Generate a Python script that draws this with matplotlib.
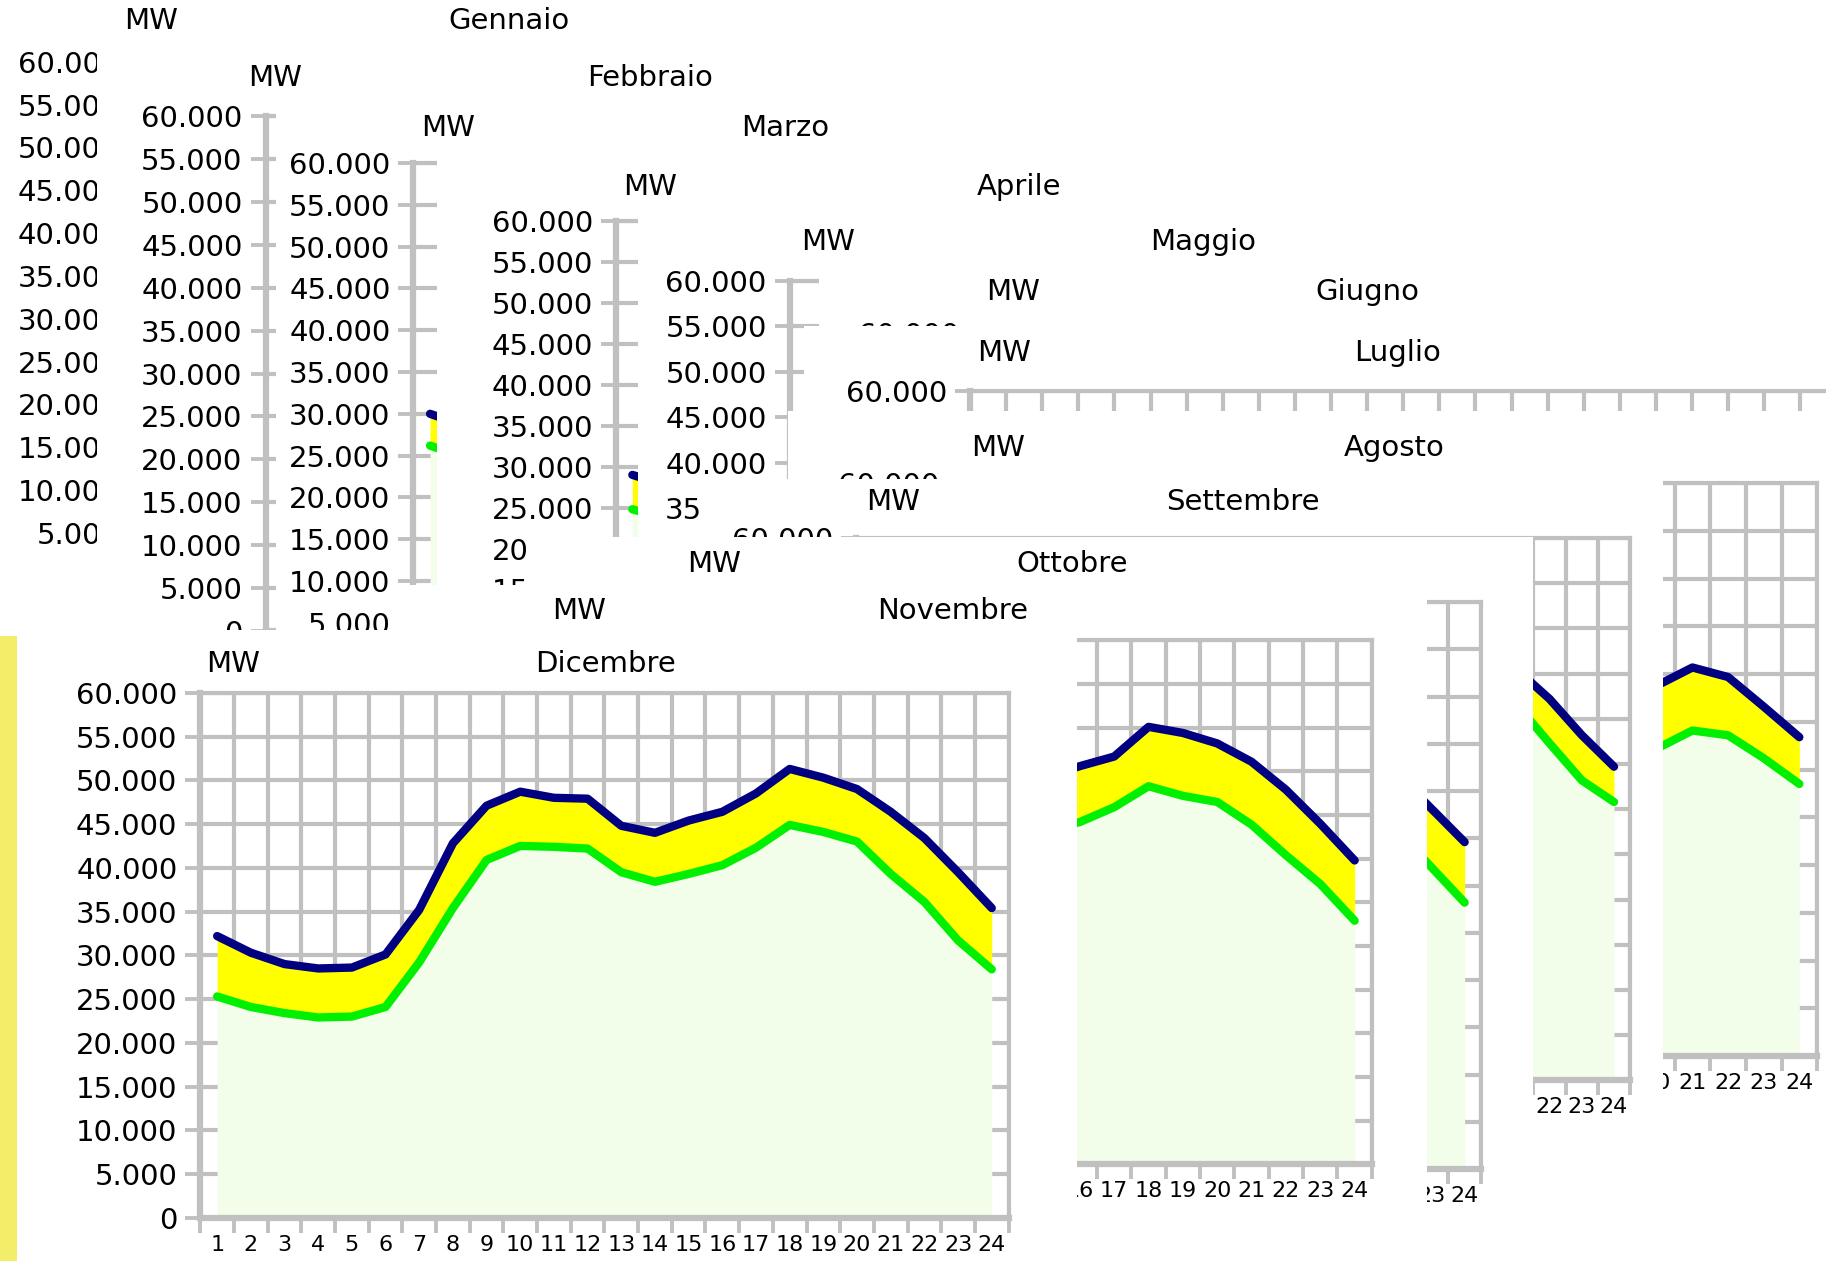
import numpy as np
import matplotlib
matplotlib.use("Agg")
import matplotlib.pyplot as plt
from matplotlib.patches import Rectangle

# layout grid used for placing the cascaded cards (reference proportions)
W, H = 1568, 1083

MONTHS = ["Gennaio", "Febbraio", "Marzo", "Aprile", "Maggio", "Giugno",
          "Luglio", "Agosto", "Settembre", "Ottobre", "Novembre", "Dicembre"]

# only the parts of each daily profile that show between the cards (MW)
mar_hours = [1, 2]
mar_max = [30000, 28600]
mar_min = [26200, 24800]

apr_hours = [1, 2]
apr_max = [29000, 27800]
apr_min = [24800, 23700]

ago_hours = [20, 21, 22, 23, 24]
ago_max = [38800, 40700, 39700, 36600, 33400]
ago_min = [32200, 34100, 33600, 31200, 28500]

set_hours = [21, 22, 23, 24]
set_max = [45400, 42200, 38200, 34700]
set_min = [41500, 37300, 33200, 30800]

ott_hours = [22, 23, 24]
ott_max = [41600, 38100, 34600]
ott_min = [35600, 31900, 28200]

nov_hours = list(range(15, 25))
nov_max = [44300, 45600, 46700, 50100, 49400, 48200, 46100, 42900, 39000, 34800]
nov_min = [38200, 39200, 40900, 43300, 42200, 41500, 38900, 35400, 32100, 27900]

dic_hours = list(range(1, 25))
dic_max = [32200, 30300, 29000, 28500, 28600, 30100, 35200, 42800, 47100, 48700,
           48000, 47900, 44800, 44000, 45400, 46400, 48500, 51300, 50300, 49000,
           46400, 43400, 39500, 35400]
dic_min = [25300, 24100, 23400, 22900, 23000, 24100, 29200, 35400, 40900, 42500,
           42400, 42200, 39500, 38400, 39300, 40300, 42300, 44900, 44100, 43000,
           39300, 36100, 31700, 28400]

SERIES = {
    "Marzo": (mar_hours, mar_max, mar_min),
    "Aprile": (apr_hours, apr_max, apr_min),
    "Agosto": (ago_hours, ago_max, ago_min),
    "Settembre": (set_hours, set_max, set_min),
    "Ottobre": (ott_hours, ott_max, ott_min),
    "Novembre": (nov_hours, nov_max, nov_min),
    "Dicembre": (dic_hours, dic_max, dic_min),
}

Y_TICKS = list(range(0, 60001, 5000))
X_LABELS = [str(h) for h in range(1, 25)]

# card geometry: axis x, top y, px per 5000 MW, px per hour,
# MW label, title, card left/top/right
LAYOUT = {
    "Gennaio":   dict(ax=122, top=53,  row=36.8,  col=29.0, mw=(130, 18),  ti=(437, 18),  card=(0, 0, W + 60)),
    "Febbraio":  dict(ax=228, top=100, row=36.8,  col=29.0, mw=(236, 67),  ti=(558, 67),  card=(83, 38, W + 60)),
    "Marzo":     dict(ax=355, top=140, row=35.9,  col=28.6, mw=(385, 110), ti=(674, 110), card=(237, 90, W + 60)),
    "Aprile":    dict(ax=529, top=190, row=35.14, col=28.0, mw=(558, 161), ti=(875, 161), card=(375, 130, W + 60)),
    "Maggio":    dict(ax=678, top=241, row=39.1,  col=30.0, mw=(711, 208), ti=(1033, 208), card=(548, 181, W + 60)),
    "Giugno":    dict(ax=843, top=286, row=39.0,  col=30.0, mw=(870, 251), ti=(1174, 251), card=(703, 232, W + 60)),
    "Luglio":    dict(ax=833, top=336, row=40.0,  col=31.0, mw=(862, 303), ti=(1200, 303), card=(690, 280, W + 60)),
    "Agosto":    dict(ax=826, top=415, row=41.0,  col=30.6, mw=(857, 385), ti=(1197, 385), card=(677, 353, W + 60)),
    "Settembre": dict(ax=735, top=462, row=38.83, col=27.7, mw=(767, 431), ti=(1067, 431), card=(600, 411, 1428)),
    "Ottobre":   dict(ax=595, top=517, row=40.6,  col=28.2, mw=(613, 484), ti=(921, 484), card=(455, 461, 1316)),
    "Novembre":  dict(ax=470, top=550, row=37.5,  col=29.5, mw=(497, 525), ti=(818, 525), card=(333, 502, 1225)),
    "Dicembre":  dict(ax=172, top=595, row=37.58, col=28.92, mw=(200, 570), ti=(520, 570), card=(15, 541, 925)),
}

GRID = "#c0c0c0"
NAVY = "#000080"
GREEN = "#00f000"
YELLOW = "#ffff00"
PALE = "#f2fdea"
STRIP = "#f2ee6a"


def fx(x):
    return x / W


def fy(y):
    return 1 - y / H


def fmt(v):
    return f"{v:,}".replace(",", ".")


fig = plt.figure(figsize=(18.26, 12.61), dpi=100)

for i, month in enumerate(MONTHS):
    lay = LAYOUT[month]
    z = 10 * (i + 1)
    # white card hides everything of the earlier months below/right of its corner
    left, top, right = lay["card"]
    fig.add_artist(Rectangle((fx(left), fy(H + 60)), fx(right) - fx(left), fy(top) - fy(H + 60),
                             transform=fig.transFigure, facecolor="white", edgecolor="none", zorder=z))

    a, t, row, col = lay["ax"], lay["top"], lay["row"], lay["col"]
    b = t + 12 * row
    ax = fig.add_axes([fx(a), fy(b), 24 * col / W, (b - t) / H])
    ax.set_zorder(z + 1)
    ax.set_facecolor("white")
    ax.set_xlim(0.5, 24.5)
    ax.set_ylim(0, 60000)
    ax.set_axisbelow(True)

    ax.set_xticks(np.arange(0.5, 25, 1))
    ax.set_xticks(range(1, 25), labels=X_LABELS, minor=True)
    ax.tick_params(axis="x", which="major", length=11, width=2.8, color=GRID, labelbottom=False)
    ax.tick_params(axis="x", which="minor", length=0, pad=12, labelsize=16)
    ax.set_yticks(Y_TICKS, labels=[fmt(v) for v in Y_TICKS])
    ax.tick_params(axis="y", length=11, width=2.8, color=GRID, pad=5.5, labelsize=21)
    ax.grid(True, which="major", color=GRID, lw=3)
    for s in ax.spines.values():
        s.set_color(GRID)
        s.set_linewidth(3)
    ax.spines["left"].set_linewidth(4.5)
    ax.spines["bottom"].set_linewidth(4.5)

    if month in SERIES:
        hrs, hi, lo = SERIES[month]
        ax.fill_between(hrs, 0, lo, color=PALE, lw=0, zorder=1)
        ax.fill_between(hrs, lo, hi, color=YELLOW, lw=0, zorder=1)
        ax.plot(hrs, lo, color=GREEN, lw=6, solid_capstyle="round", solid_joinstyle="round", zorder=3)
        ax.plot(hrs, hi, color=NAVY, lw=6, solid_capstyle="round", solid_joinstyle="round", zorder=3)

    fig.text(fx(lay["mw"][0]), fy(lay["mw"][1]), "MW", fontsize=21, ha="center", va="center", zorder=z + 2)
    fig.text(fx(lay["ti"][0]), fy(lay["ti"][1]), month, fontsize=21, ha="center", va="center", zorder=z + 2)

fig.add_artist(Rectangle((0, 0), fx(15), fy(546), transform=fig.transFigure,
                         facecolor=STRIP, edgecolor="none", zorder=500))

fig.savefig("out.png", dpi=100)
